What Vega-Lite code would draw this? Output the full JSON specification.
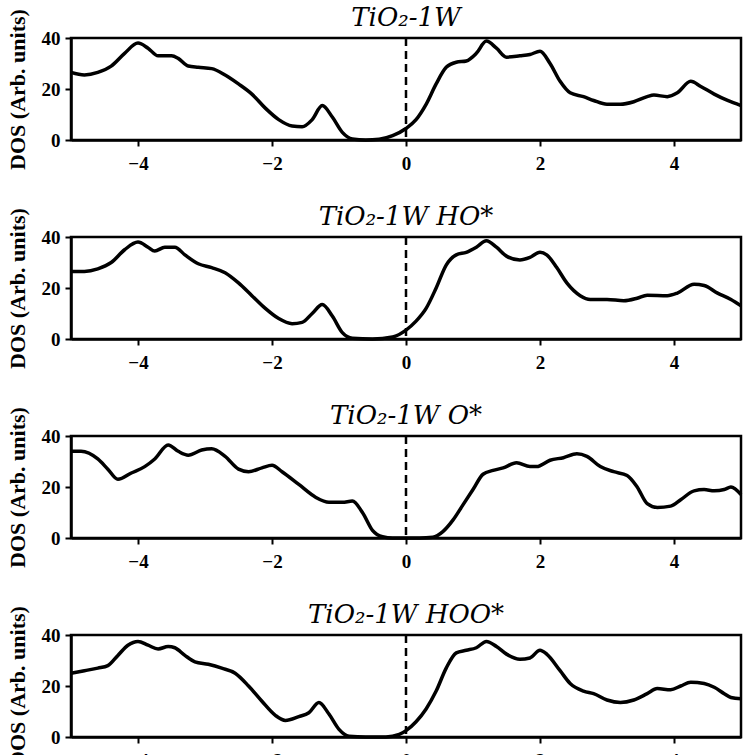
{
  "$schema": "https://vega.github.io/schema/vega-lite/v6.json",
  "background": "white",
  "padding": {"left": 4, "top": 3, "right": 2, "bottom": 0},
  "bounds": "flush",
  "spacing": 97,
  "config": {
    "view": {"stroke": "black", "strokeWidth": 2.5},
    "font": "Liberation Serif",
    "axis": {
      "grid": false,
      "domainColor": "black",
      "domainWidth": 2.5,
      "tickColor": "black",
      "tickWidth": 2,
      "tickSize": 6,
      "labelColor": "black",
      "labelFont": "Liberation Serif",
      "labelFontWeight": "bold",
      "labelFontSize": 19,
      "labelPadding": 5,
      "titleColor": "black",
      "titleFont": "Liberation Serif",
      "titleFontWeight": "bold",
      "titleFontSize": 22,
      "titlePadding": 12
    },
    "axisX": {"labelPadding": 8},
    "title": {"font": "DejaVu Serif", "fontSize": 26, "fontStyle": "italic", "fontWeight": "normal", "color": "black"}
  },
  "datasets": {
    "p1": [
      {"E": -5.0, "DOS": 26.5}, {"E": -4.8, "DOS": 25.5}, {"E": -4.6, "DOS": 26.5}, {"E": -4.4, "DOS": 29}, {"E": -4.2, "DOS": 34}, {"E": -4.0, "DOS": 38}, {"E": -3.85, "DOS": 36}, {"E": -3.7, "DOS": 33}, {"E": -3.5, "DOS": 33}, {"E": -3.4, "DOS": 32}, {"E": -3.25, "DOS": 29}, {"E": -3.1, "DOS": 28.5}, {"E": -2.9, "DOS": 28}, {"E": -2.7, "DOS": 25.5}, {"E": -2.5, "DOS": 22}, {"E": -2.3, "DOS": 18}, {"E": -2.1, "DOS": 12.5}, {"E": -1.9, "DOS": 8}, {"E": -1.7, "DOS": 5.5}, {"E": -1.55, "DOS": 5.2}, {"E": -1.4, "DOS": 8}, {"E": -1.25, "DOS": 13.5}, {"E": -1.1, "DOS": 9}, {"E": -0.95, "DOS": 3}, {"E": -0.8, "DOS": 0.4}, {"E": -0.6, "DOS": 0}, {"E": -0.4, "DOS": 0.3}, {"E": -0.2, "DOS": 1.7}, {"E": 0.0, "DOS": 4.5}, {"E": 0.15, "DOS": 8}, {"E": 0.3, "DOS": 14}, {"E": 0.45, "DOS": 22}, {"E": 0.6, "DOS": 28.5}, {"E": 0.75, "DOS": 30.5}, {"E": 0.9, "DOS": 31}, {"E": 1.05, "DOS": 34}, {"E": 1.2, "DOS": 38.8}, {"E": 1.35, "DOS": 36}, {"E": 1.5, "DOS": 32.5}, {"E": 1.7, "DOS": 33}, {"E": 1.85, "DOS": 33.5}, {"E": 2.0, "DOS": 34.8}, {"E": 2.15, "DOS": 30}, {"E": 2.3, "DOS": 23}, {"E": 2.45, "DOS": 18.5}, {"E": 2.65, "DOS": 17}, {"E": 2.8, "DOS": 15.5}, {"E": 3.0, "DOS": 14}, {"E": 3.2, "DOS": 14}, {"E": 3.4, "DOS": 15}, {"E": 3.6, "DOS": 17}, {"E": 3.7, "DOS": 17.6}, {"E": 3.9, "DOS": 17}, {"E": 4.05, "DOS": 18.5}, {"E": 4.25, "DOS": 23}, {"E": 4.4, "DOS": 21}, {"E": 4.6, "DOS": 18}, {"E": 4.8, "DOS": 15.5}, {"E": 5.0, "DOS": 13.5}
    ],
    "p2": [
      {"E": -5.0, "DOS": 26.5}, {"E": -4.8, "DOS": 26.5}, {"E": -4.6, "DOS": 27.5}, {"E": -4.4, "DOS": 30}, {"E": -4.2, "DOS": 35}, {"E": -4.0, "DOS": 38}, {"E": -3.85, "DOS": 36}, {"E": -3.75, "DOS": 34.5}, {"E": -3.6, "DOS": 36}, {"E": -3.45, "DOS": 36}, {"E": -3.3, "DOS": 33}, {"E": -3.1, "DOS": 29.5}, {"E": -2.9, "DOS": 28}, {"E": -2.7, "DOS": 26}, {"E": -2.5, "DOS": 22}, {"E": -2.3, "DOS": 17}, {"E": -2.1, "DOS": 12}, {"E": -1.9, "DOS": 8}, {"E": -1.7, "DOS": 6}, {"E": -1.55, "DOS": 6.5}, {"E": -1.4, "DOS": 10}, {"E": -1.25, "DOS": 13.5}, {"E": -1.1, "DOS": 9}, {"E": -0.95, "DOS": 2.5}, {"E": -0.8, "DOS": 0.3}, {"E": -0.5, "DOS": 0}, {"E": -0.2, "DOS": 0.8}, {"E": 0.0, "DOS": 3.5}, {"E": 0.15, "DOS": 7}, {"E": 0.3, "DOS": 12}, {"E": 0.45, "DOS": 20}, {"E": 0.6, "DOS": 29}, {"E": 0.75, "DOS": 33}, {"E": 0.9, "DOS": 34}, {"E": 1.05, "DOS": 36}, {"E": 1.2, "DOS": 38.5}, {"E": 1.35, "DOS": 36}, {"E": 1.5, "DOS": 32.5}, {"E": 1.7, "DOS": 31}, {"E": 1.85, "DOS": 32}, {"E": 2.0, "DOS": 34}, {"E": 2.1, "DOS": 33}, {"E": 2.25, "DOS": 28}, {"E": 2.4, "DOS": 22}, {"E": 2.6, "DOS": 17}, {"E": 2.75, "DOS": 15.5}, {"E": 3.0, "DOS": 15.5}, {"E": 3.25, "DOS": 15}, {"E": 3.45, "DOS": 16}, {"E": 3.6, "DOS": 17.2}, {"E": 3.9, "DOS": 17}, {"E": 4.05, "DOS": 18}, {"E": 4.3, "DOS": 21.5}, {"E": 4.45, "DOS": 21}, {"E": 4.65, "DOS": 18}, {"E": 4.85, "DOS": 15.5}, {"E": 5.0, "DOS": 13}
    ],
    "p3": [
      {"E": -5.0, "DOS": 34}, {"E": -4.85, "DOS": 34}, {"E": -4.6, "DOS": 31}, {"E": -4.45, "DOS": 27}, {"E": -4.3, "DOS": 23}, {"E": -4.1, "DOS": 25.5}, {"E": -3.9, "DOS": 28}, {"E": -3.75, "DOS": 31}, {"E": -3.55, "DOS": 36.5}, {"E": -3.4, "DOS": 34}, {"E": -3.25, "DOS": 32.5}, {"E": -3.05, "DOS": 34.5}, {"E": -2.9, "DOS": 35}, {"E": -2.7, "DOS": 32}, {"E": -2.5, "DOS": 27}, {"E": -2.35, "DOS": 26}, {"E": -2.15, "DOS": 27.5}, {"E": -2.0, "DOS": 28.5}, {"E": -1.85, "DOS": 26}, {"E": -1.6, "DOS": 21}, {"E": -1.35, "DOS": 16}, {"E": -1.15, "DOS": 14}, {"E": -0.95, "DOS": 14}, {"E": -0.8, "DOS": 14.5}, {"E": -0.65, "DOS": 10}, {"E": -0.5, "DOS": 3}, {"E": -0.35, "DOS": 0.5}, {"E": -0.2, "DOS": 0}, {"E": 0.2, "DOS": 0}, {"E": 0.4, "DOS": 0.3}, {"E": 0.55, "DOS": 2.5}, {"E": 0.7, "DOS": 7}, {"E": 0.85, "DOS": 13}, {"E": 1.0, "DOS": 19}, {"E": 1.15, "DOS": 25}, {"E": 1.3, "DOS": 26.5}, {"E": 1.45, "DOS": 27.5}, {"E": 1.65, "DOS": 29.5}, {"E": 1.85, "DOS": 28}, {"E": 1.95, "DOS": 28}, {"E": 2.15, "DOS": 30.5}, {"E": 2.35, "DOS": 31.5}, {"E": 2.55, "DOS": 33}, {"E": 2.7, "DOS": 32}, {"E": 2.9, "DOS": 28}, {"E": 3.1, "DOS": 26}, {"E": 3.3, "DOS": 24.5}, {"E": 3.45, "DOS": 20}, {"E": 3.6, "DOS": 13.5}, {"E": 3.75, "DOS": 12}, {"E": 3.95, "DOS": 12.5}, {"E": 4.1, "DOS": 15}, {"E": 4.3, "DOS": 18.5}, {"E": 4.45, "DOS": 19}, {"E": 4.6, "DOS": 18.5}, {"E": 4.75, "DOS": 19}, {"E": 4.85, "DOS": 20}, {"E": 5.0, "DOS": 17}
    ],
    "p4": [
      {"E": -5.0, "DOS": 25}, {"E": -4.8, "DOS": 26}, {"E": -4.6, "DOS": 27}, {"E": -4.45, "DOS": 28}, {"E": -4.3, "DOS": 32}, {"E": -4.15, "DOS": 36}, {"E": -4.0, "DOS": 37.5}, {"E": -3.85, "DOS": 36}, {"E": -3.7, "DOS": 34.5}, {"E": -3.55, "DOS": 35.5}, {"E": -3.45, "DOS": 35}, {"E": -3.3, "DOS": 32}, {"E": -3.15, "DOS": 29.5}, {"E": -2.95, "DOS": 28.5}, {"E": -2.75, "DOS": 27}, {"E": -2.55, "DOS": 25}, {"E": -2.35, "DOS": 20}, {"E": -2.15, "DOS": 14}, {"E": -1.95, "DOS": 8.5}, {"E": -1.8, "DOS": 6.5}, {"E": -1.6, "DOS": 8}, {"E": -1.45, "DOS": 9.5}, {"E": -1.3, "DOS": 13.5}, {"E": -1.15, "DOS": 9}, {"E": -1.0, "DOS": 3}, {"E": -0.85, "DOS": 0.3}, {"E": -0.6, "DOS": 0}, {"E": -0.3, "DOS": 0}, {"E": -0.1, "DOS": 1}, {"E": 0.0, "DOS": 2.5}, {"E": 0.15, "DOS": 6}, {"E": 0.3, "DOS": 11}, {"E": 0.45, "DOS": 18}, {"E": 0.6, "DOS": 27}, {"E": 0.75, "DOS": 33}, {"E": 0.9, "DOS": 34}, {"E": 1.05, "DOS": 35}, {"E": 1.2, "DOS": 37.5}, {"E": 1.35, "DOS": 35.5}, {"E": 1.5, "DOS": 32.5}, {"E": 1.7, "DOS": 30.5}, {"E": 1.85, "DOS": 31}, {"E": 2.0, "DOS": 34}, {"E": 2.1, "DOS": 32.5}, {"E": 2.3, "DOS": 26}, {"E": 2.45, "DOS": 21}, {"E": 2.65, "DOS": 18}, {"E": 2.8, "DOS": 17}, {"E": 3.0, "DOS": 14.5}, {"E": 3.2, "DOS": 13.5}, {"E": 3.4, "DOS": 14.5}, {"E": 3.6, "DOS": 17}, {"E": 3.75, "DOS": 19}, {"E": 3.95, "DOS": 18.5}, {"E": 4.1, "DOS": 20}, {"E": 4.25, "DOS": 21.5}, {"E": 4.45, "DOS": 21}, {"E": 4.6, "DOS": 19.5}, {"E": 4.75, "DOS": 17}, {"E": 4.85, "DOS": 15.5}, {"E": 5.0, "DOS": 15}
    ]
  },
  "vconcat": [
    {
      "title": {"text": "TiO₂-1W", "offset": -22},
      "width": 670, "height": 102,
      "layer": [
        {"data": {"name": "p1"}, "mark": {"type": "line", "color": "black", "strokeWidth": 3.5, "interpolate": "monotone"},
         "encoding": {
           "x": {"field": "E", "type": "quantitative", "scale": {"domain": [-5, 5], "nice": false}, "axis": {"values": [-4, -2, 0, 2, 4], "format": "d", "title": null}},
           "y": {"field": "DOS", "type": "quantitative", "scale": {"domain": [0, 40], "nice": false}, "axis": {"values": [0, 20, 40], "format": "d", "title": "DOS (Arb. units)"}}}},
        {"data": {"values": [{"E0": 0}]}, "mark": {"type": "rule", "color": "black", "strokeWidth": 2.5, "strokeDash": [8, 5]},
         "encoding": {"x": {"field": "E0", "type": "quantitative"}}}
      ]
    },
    {
      "title": {"text": "TiO₂-1W HO*", "offset": -22},
      "width": 670, "height": 102,
      "layer": [
        {"data": {"name": "p2"}, "mark": {"type": "line", "color": "black", "strokeWidth": 3.5, "interpolate": "monotone"},
         "encoding": {
           "x": {"field": "E", "type": "quantitative", "scale": {"domain": [-5, 5], "nice": false}, "axis": {"values": [-4, -2, 0, 2, 4], "format": "d", "title": null}},
           "y": {"field": "DOS", "type": "quantitative", "scale": {"domain": [0, 40], "nice": false}, "axis": {"values": [0, 20, 40], "format": "d", "title": "DOS (Arb. units)"}}}},
        {"data": {"values": [{"E0": 0}]}, "mark": {"type": "rule", "color": "black", "strokeWidth": 2.5, "strokeDash": [8, 5]},
         "encoding": {"x": {"field": "E0", "type": "quantitative"}}}
      ]
    },
    {
      "title": {"text": "TiO₂-1W O*", "offset": -22},
      "width": 670, "height": 102,
      "layer": [
        {"data": {"name": "p3"}, "mark": {"type": "line", "color": "black", "strokeWidth": 3.5, "interpolate": "monotone"},
         "encoding": {
           "x": {"field": "E", "type": "quantitative", "scale": {"domain": [-5, 5], "nice": false}, "axis": {"values": [-4, -2, 0, 2, 4], "format": "d", "title": null}},
           "y": {"field": "DOS", "type": "quantitative", "scale": {"domain": [0, 40], "nice": false}, "axis": {"values": [0, 20, 40], "format": "d", "title": "DOS (Arb. units)"}}}},
        {"data": {"values": [{"E0": 0}]}, "mark": {"type": "rule", "color": "black", "strokeWidth": 2.5, "strokeDash": [8, 5]},
         "encoding": {"x": {"field": "E0", "type": "quantitative"}}}
      ]
    },
    {
      "title": {"text": "TiO₂-1W HOO*", "offset": -22},
      "width": 670, "height": 102,
      "layer": [
        {"data": {"name": "p4"}, "mark": {"type": "line", "color": "black", "strokeWidth": 3.5, "interpolate": "monotone"},
         "encoding": {
           "x": {"field": "E", "type": "quantitative", "scale": {"domain": [-5, 5], "nice": false}, "axis": {"values": [-4, -2, 0, 2, 4], "format": "d", "title": null}},
           "y": {"field": "DOS", "type": "quantitative", "scale": {"domain": [0, 40], "nice": false}, "axis": {"values": [0, 20, 40], "format": "d", "title": "DOS (Arb. units)"}}}},
        {"data": {"values": [{"E0": 0}]}, "mark": {"type": "rule", "color": "black", "strokeWidth": 2.5, "strokeDash": [8, 5]},
         "encoding": {"x": {"field": "E0", "type": "quantitative"}}}
      ]
    }
  ]
}
